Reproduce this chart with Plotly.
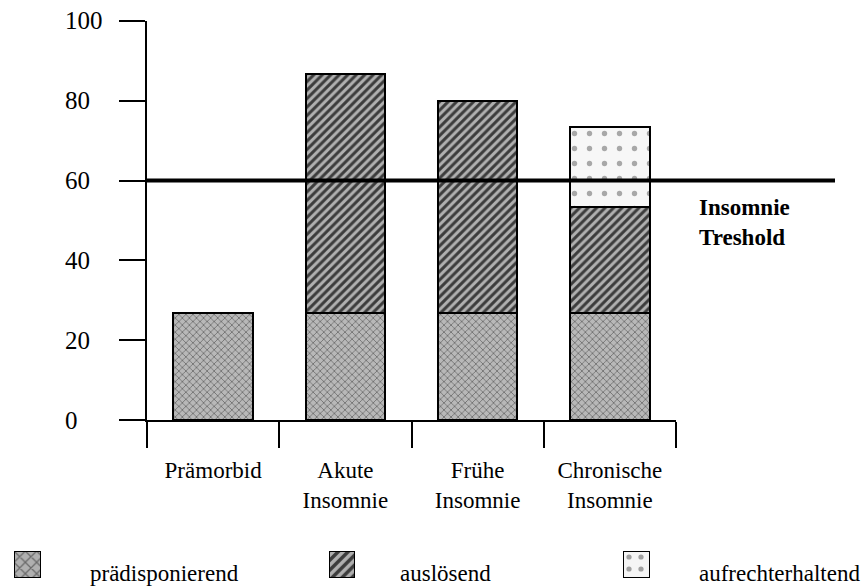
import plotly.graph_objects as go

W, H = 865, 588

# Phases of insomnia development and the stacked factor contributions
categories = ["Prämorbid", "Akute<br>Insomnie", "Frühe<br>Insomnie", "Chronische<br>Insomnie"]
praedisponierend = [26.7, 26.7, 26.7, 26.7]
ausloesend = [None, 60.0, 53.3, 26.7]
aufrechterhaltend = [None, None, None, 20.0]
series_names = ["prädisponierend", "auslösend", "aufrechterhaltend"]

threshold = 60
threshold_label = "<b>Insomnie<br>Treshold</b>"
y_ticks = [0, 20, 40, 60, 80, 100]

SERIF = "Liberation Serif"


def px(x):
    return x / W


def py(y):
    return 1 - y / H


# Texture for each factor (main bars, legend swatch)
styles = {
    "prädisponierend": dict(shape="x", fgcolor="#6e6e6e", bgcolor="#b8b8b8", size=5, solidity=0.3),
    "auslösend": dict(shape="/", fgcolor="#3c3c3c", bgcolor="#b0b0b0", size=6, solidity=0.5),
    "aufrechterhaltend": dict(shape=".", fgcolor="#a8a8a8", bgcolor="#f7f7f7", size=15, solidity=0.1),
}
swatch_styles = {
    "prädisponierend": dict(shape="x", fgcolor="#6a6a6a", bgcolor="#b0b0b0", size=8, solidity=0.3),
    "auslösend": dict(shape="/", fgcolor="#3c3c3c", bgcolor="#b0b0b0", size=7, solidity=0.5),
    "aufrechterhaltend": dict(shape=".", fgcolor="#a0a0a0", bgcolor="#f5f5f5", size=12, solidity=0.15),
}

fig = go.Figure()

for name, vals in zip(series_names, [praedisponierend, ausloesend, aufrechterhaltend]):
    st = styles[name]
    fig.add_trace(go.Bar(
        x=categories, y=vals, name=name, width=0.6,
        marker=dict(color=st["bgcolor"], pattern=dict(fillmode="replace", **st),
                    line=dict(color="black", width=2)),
        showlegend=False, xaxis="x", yaxis="y",
    ))

# Legend swatches, each on its own small axis pair
swatch_x = [(14, 41), (329, 355), (623, 650)]
text_x = [88, 398, 697]
for i, (name, (x0, x1)) in enumerate(zip(series_names, swatch_x), start=2):
    st = swatch_styles[name]
    fig.add_trace(go.Bar(
        x=[name], y=[1], width=1, cliponaxis=False,
        marker=dict(color=st["bgcolor"], pattern=dict(fillmode="replace", **st),
                    line=dict(color="black", width=2)),
        showlegend=False, xaxis=f"x{i}", yaxis=f"y{i}", hoverinfo="skip",
    ))
    fig.update_layout(**{
        f"xaxis{i}": dict(domain=[px(x0), px(x1)], range=[-0.5, 0.5], visible=False, fixedrange=True),
        f"yaxis{i}": dict(domain=[py(578), py(551)], range=[0, 1], visible=False, fixedrange=True),
    })

annotations = []
for v in y_ticks:
    annotations.append(dict(
        x=px(63), xref="paper", y=v, yref="y", text=str(v), showarrow=False,
        xanchor="left", yanchor="middle", font=dict(family=SERIF, size=25, color="black"),
    ))
for name, tx in zip(series_names, text_x):
    annotations.append(dict(
        x=px(tx), xref="paper", y=py(573), yref="paper", text=name, showarrow=False,
        xanchor="left", yanchor="middle", font=dict(family=SERIF, size=23, color="black"),
    ))
annotations.append(dict(
    x=px(697), xref="paper", y=py(223), yref="paper", text=threshold_label, showarrow=False,
    xanchor="left", yanchor="middle", align="left",
    font=dict(family=SERIF, size=23, color="black"),
))

fig.update_layout(
    width=W, height=H,
    margin=dict(l=0, r=0, t=0, b=0),
    paper_bgcolor="white", plot_bgcolor="white",
    barmode="stack", bargap=0.4,
    font=dict(family=SERIF, color="black"),
    xaxis=dict(
        domain=[px(147), px(676)], type="category", range=[-0.5, 3.5],
        tickson="boundaries", ticks="outside", ticklen=26, tickwidth=2, tickcolor="black",
        showline=True, linewidth=2, linecolor="black", showgrid=False,
        tickfont=dict(family=SERIF, size=23, color="black"), ticklabelstandoff=28,
    ),
    yaxis=dict(
        domain=[py(420), py(21)], range=[0, 100], tickvals=y_ticks,
        ticks="outside", ticklen=26, tickwidth=2, tickcolor="black",
        showticklabels=False, showline=True, linewidth=2, linecolor="black",
        showgrid=False, zeroline=False,
    ),
    shapes=[dict(
        type="line", xref="paper", x0=px(147), x1=px(835), yref="y", y0=threshold, y1=threshold,
        line=dict(color="black", width=4), layer="above",
    )],
    annotations=annotations,
)

fig.write_html("out.html")
